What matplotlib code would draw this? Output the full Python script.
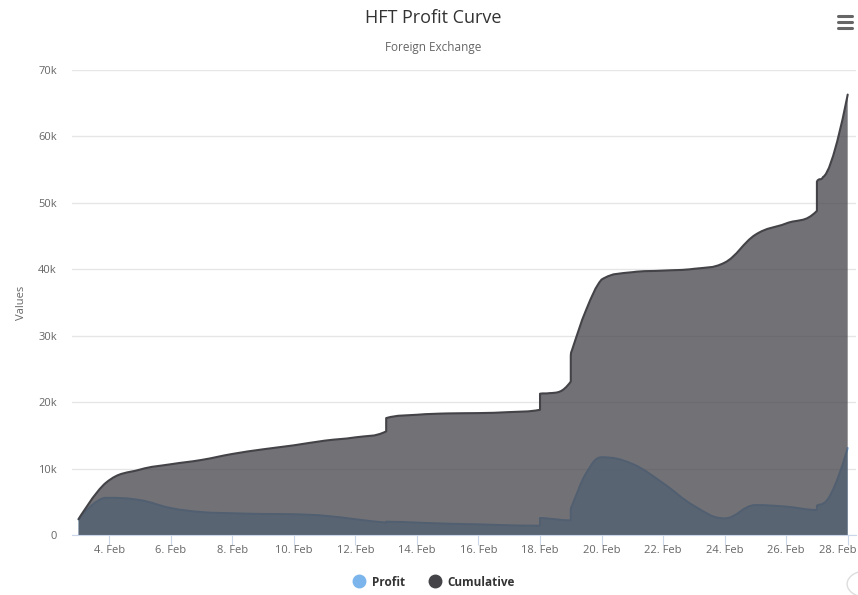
import matplotlib
matplotlib.use("Agg")
import matplotlib.pyplot as plt
import matplotlib.transforms as mtransforms
from matplotlib.path import Path
from matplotlib.patches import PathPatch, Circle
from matplotlib.lines import Line2D

# data points (day of February, values in thousands)
days = [3, 3.9, 5, 6, 7, 8, 9, 10, 11, 12, 13, 13, 14, 15, 16, 17, 18, 18,
        18.3, 19, 19, 19.03, 19.5, 20, 21, 22, 23, 24, 25, 26, 27, 27, 27.2, 28]
profit = [2.37, 5.6, 5.25, 4.05, 3.45, 3.27, 3.17, 3.12, 2.9, 2.37, 1.86, 2.0,
          1.86, 1.7, 1.6, 1.46, 1.4, 2.56, 2.45, 2.2, 3.77, 4.3, 9.3, 11.7,
          10.7, 7.8, 4.4, 2.5, 4.5, 4.27, 3.77, 4.4, 4.75, 13.1]
cumulative = [2.37, 7.9, 9.85, 10.65, 11.3, 12.2, 12.9, 13.5, 14.2, 14.7, 15.6,
              17.6, 18.1, 18.3, 18.35, 18.5, 18.85, 21.27, 21.35, 23.1, 27.0,
              27.7, 33.9, 38.45, 39.56, 39.8, 40.07, 41.0, 45.2, 46.9, 48.8,
              53.2, 53.9, 66.3]
tick_days = [4, 6, 8, 10, 12, 14, 16, 18, 20, 22, 24, 26, 28]
tick_labels = [f"{d}. Feb" for d in tick_days]
ytick_vals = [0, 10, 20, 30, 40, 50, 60, 70]
ytick_labels = ["0"] + [f"{v}k" for v in ytick_vals[1:]]


def spline_verts(xs, ys, smoothing=1.5):
    # highcharts style spline control points
    n = len(xs)
    lc = [None] * n
    rc = [None] * n
    d = smoothing + 1
    for i in range(1, n - 1):
        px, py = xs[i], ys[i]
        lx, ly = xs[i - 1], ys[i - 1]
        nx, ny = xs[i + 1], ys[i + 1]
        lcx = (smoothing * px + lx) / d
        lcy = (smoothing * py + ly) / d
        rcx = (smoothing * px + nx) / d
        rcy = (smoothing * py + ny) / d
        if rcx != lcx:
            corr = ((rcy - lcy) * (rcx - px)) / (rcx - lcx) + py - rcy
            lcy += corr
            rcy += corr
        if lcy > ly and lcy > py:
            lcy = max(ly, py)
            rcy = 2 * py - lcy
        elif lcy < ly and lcy < py:
            lcy = min(ly, py)
            rcy = 2 * py - lcy
        if rcy > ny and rcy > py:
            rcy = max(ny, py)
            lcy = 2 * py - rcy
        elif rcy < ny and rcy < py:
            rcy = min(ny, py)
            lcy = 2 * py - rcy
        lc[i] = (lcx, lcy)
        rc[i] = (rcx, rcy)
    verts = [(xs[0], ys[0])]
    codes = [Path.MOVETO]
    for i in range(1, n):
        c1 = rc[i - 1] if rc[i - 1] else (xs[i - 1], ys[i - 1])
        c2 = lc[i] if lc[i] else (xs[i], ys[i])
        verts += [c1, c2, (xs[i], ys[i])]
        codes += [Path.CURVE4] * 3
    return verts, codes


def draw_area(ax, xs, ys, color, z):
    verts, codes = spline_verts(xs, ys)
    line = Path(verts, codes)
    area = Path(verts + [(xs[-1], 0), (xs[0], 0), (xs[0], ys[0])],
                codes + [Path.LINETO, Path.LINETO, Path.CLOSEPOLY])
    ax.add_patch(PathPatch(area, facecolor=color, edgecolor="none", alpha=0.75, zorder=z))
    ax.add_patch(PathPatch(line, facecolor="none", edgecolor=color, lw=1.5, zorder=z + 0.5,
                           capstyle="round", joinstyle="round"))


plt.rcParams['font.family'] = ['Open Sans', 'DejaVu Sans']
fig = plt.figure(figsize=(8.58, 5.95), dpi=100)
ax = fig.add_axes([72 / 858, 60 / 595, 784 / 858, 465 / 595])

draw_area(ax, days, profit, "#7cb5ec", 2)
draw_area(ax, days, cumulative, "#434348", 3)

ax.set_xlim(2.788, 28.27)
ax.set_ylim(0, 70)
ax.set_yticks(ytick_vals)
ax.set_yticklabels(ytick_labels)
ax.set_xticks(tick_days)
ax.set_xticklabels(tick_labels)
ax.grid(axis="y", color="#e6e6e6", lw=1)
ax.set_axisbelow(True)
for s in ["top", "right", "left"]:
    ax.spines[s].set_visible(False)
ax.spines["bottom"].set_color("#ccd6eb")
ax.spines["bottom"].set_zorder(5)
ax.tick_params(axis="x", length=7, color="#ccd6eb", labelcolor="#666666", labelsize=8, pad=0.5)
ax.tick_params(axis="y", length=0, labelcolor="#666666", labelsize=8, pad=10.8)
ax.set_ylabel("Values", color="#666666", fontsize=8, labelpad=8)

# last label pushed left like highcharts overflow handling
last = ax.get_xticklabels()[-1]
last.set_horizontalalignment("right")
last.set_transform(last.get_transform() + mtransforms.ScaledTranslation(9 / 100, 0, fig.dpi_scale_trans))

fig.text(433 / 858, 1 - 18 / 595, "HFT Profit Curve", ha="center", va="center",
         fontsize=13, color="#333333")
fig.text(433 / 858, 1 - 47 / 595, "Foreign Exchange", ha="center", va="center",
         fontsize=8.5, color="#666666")

# menu icon
for yy in [16, 22, 28]:
    fig.add_artist(Line2D([838 / 858, 852 / 858], [1 - yy / 595, 1 - yy / 595],
                          color="#666666", lw=2.2, solid_capstyle="round"))

handles = [Line2D([], [], marker="o", ls="none", color="#7cb5ec", markersize=9),
           Line2D([], [], marker="o", ls="none", color="#434348", markersize=9)]
leg = fig.legend(handles, ["Profit", "Cumulative"], loc="center",
                 bbox_to_anchor=(431 / 858, 1 - 582 / 595), ncol=2, frameon=False,
                 handletextpad=0.1, columnspacing=1.5,
                 prop={"weight": "bold", "size": 8.5})
for t in leg.get_texts():
    t.set_color("#333333")

fig.add_artist(Circle((866 / 858, 1 - 584 / 595), 0.022, transform=fig.transFigure,
                      facecolor="none", edgecolor="#dddddd", lw=1))

fig.savefig("out.png", dpi=100)
